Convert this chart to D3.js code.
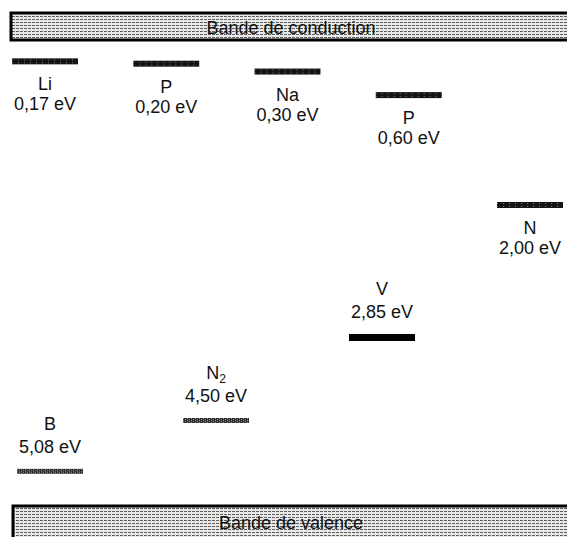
<!DOCTYPE html>
<html>
<head>
<meta charset="utf-8">
<script src="https://cdn.jsdelivr.net/npm/d3@7"></script>
<style>
body { margin:0; background:#fff; }
text { font-family:"Liberation Sans", Arial, sans-serif; fill:#111; }
</style>
</head>
<body>
<svg id="chart"></svg>
<script>
// donor levels, measured below the conduction band (eV)
var donorNames = ["Li", "P", "Na", "P", "N"];
var donorEnergies = [0.17, 0.20, 0.30, 0.60, 2.00];

// deep levels, drawn with their label above the bar
var acceptorNames = ["B", "N2", "V"];
var acceptorEnergies = [5.08, 4.50, 2.85];

var bandNames = ["Bande de conduction", "Bande de valence"];
var gap = 5.47;

var screen = {width:567, height:537};

var svg = d3.select("#chart")
    .attr("width", screen.width)
    .attr("height", screen.height);

var frFormat = d3.formatLocale({decimal:",", thousands:" ", grouping:[3], currency:["", " €"]}).format(".2f");

// schematic energy axis: the drawing is not to scale, so the scale has a few knots
var yScale = d3.scaleLinear()
    .domain([0, 2.00, 2.85, 4.50, gap])
    .range([48, 205, 337, 421, 506]);

var xDonor = d3.scalePoint()
    .domain(d3.range(donorNames.length))
    .range([45, 530]);

var xAcceptor = d3.scalePoint()
    .domain(d3.range(acceptorNames.length))
    .range([50, 382]);

var barW = 66;

// hatching used in the two bands
var defs = svg.append("defs");
var hatch = defs.append("pattern")
    .attr("id", "hatch")
    .attr("patternUnits", "userSpaceOnUse")
    .attr("width", 4)
    .attr("height", 3);
hatch.append("rect").attr("width", 4).attr("height", 3).attr("fill", "#e8e8e8");
hatch.append("rect").attr("width", 3).attr("height", 1).attr("y", 1).attr("fill", "#5e5e5e");

var fuzz = defs.append("pattern")
    .attr("id", "fuzz")
    .attr("patternUnits", "userSpaceOnUse")
    .attr("width", 6)
    .attr("height", 3);
fuzz.append("rect").attr("width", 6).attr("height", 3).attr("fill", "#151515");
fuzz.append("rect").attr("width", 1).attr("height", 1).attr("x", 3).attr("y", 1).attr("fill", "#7a7a7a");

var grain = defs.append("pattern")
    .attr("id", "grain")
    .attr("patternUnits", "userSpaceOnUse")
    .attr("width", 4)
    .attr("height", 2);
grain.append("rect").attr("width", 4).attr("height", 2).attr("fill", "#2c2c2c");
grain.append("rect").attr("width", 1).attr("height", 1).attr("x", 1).attr("fill", "#9a9a9a");
grain.append("rect").attr("width", 1).attr("height", 1).attr("x", 3).attr("y", 1).attr("fill", "#9a9a9a");

// bands
var bands = [
    {name:bandNames[0], top:13, bottom:yScale(0) - 8, left:11},
    {name:bandNames[1], top:yScale(gap), bottom:screen.height + 4, left:13}
];

var bandG = svg.selectAll(".band")
    .data(bands)
    .enter()
    .append("g")
    .classed("band", true);

bandG.append("rect")
    .attr("x", function(d){ return d.left; })
    .attr("y", function(d){ return d.top; })
    .attr("width", screen.width + 10)
    .attr("height", function(d){ return d.bottom - d.top; })
    .attr("fill", "url(#hatch)")
    .attr("stroke", "#000")
    .attr("stroke-width", 3);

bandG.append("text")
    .attr("x", 291)
    .attr("y", function(d, i){ return i == 0 ? (d.top + d.bottom) / 2 + 7 : d.top + 23; })
    .attr("text-anchor", "middle")
    .attr("font-size", 18)
    .text(function(d){ return d.name; });

// donor levels: bar then name and value underneath
var donors = svg.selectAll(".donor")
    .data(donorNames)
    .enter()
    .append("g")
    .classed("donor", true)
    .attr("transform", function(d, i){
        return "translate(" + xDonor(i) + "," + yScale(donorEnergies[i]) + ")";
    });

donors.append("rect")
    .attr("x", -barW / 2)
    .attr("y", -3)
    .attr("width", barW)
    .attr("height", 6)
    .attr("fill", "url(#fuzz)");

donors.append("text")
    .attr("y", 29)
    .attr("text-anchor", "middle")
    .attr("font-size", 18)
    .text(function(d){ return d; });

donors.append("text")
    .attr("y", 49)
    .attr("text-anchor", "middle")
    .attr("font-size", 18)
    .text(function(d, i){ return frFormat(donorEnergies[i]) + " eV"; });

// deep levels: name and value above the bar
var acceptors = svg.selectAll(".acceptor")
    .data(acceptorNames)
    .enter()
    .append("g")
    .classed("acceptor", true)
    .attr("transform", function(d, i){
        return "translate(" + xAcceptor(i) + "," + yScale(acceptorEnergies[i]) + ")";
    });

acceptors.append("rect")
    .attr("x", -barW / 2)
    .attr("y", -3)
    .attr("width", barW)
    .attr("height", function(d){ return d == "V" ? 7 : 5; })
    .attr("fill", function(d){ return d == "V" ? "#000" : "url(#grain)"; });

var names = acceptors.append("text")
    .attr("y", -42)
    .attr("text-anchor", "middle")
    .attr("font-size", 18);

names.each(function(d){
    var t = d3.select(this);
    var m = d.match(/^([A-Za-z]+)(\d*)$/);
    t.append("tspan").text(m[1]);
    if (m[2]) {
        t.append("tspan")
            .attr("font-size", 12)
            .attr("dy", 4)
            .text(m[2]);
    }
});

acceptors.append("text")
    .attr("y", -19)
    .attr("text-anchor", "middle")
    .attr("font-size", 18)
    .text(function(d, i){ return frFormat(acceptorEnergies[i]) + " eV"; });
</script>
</body>
</html>
